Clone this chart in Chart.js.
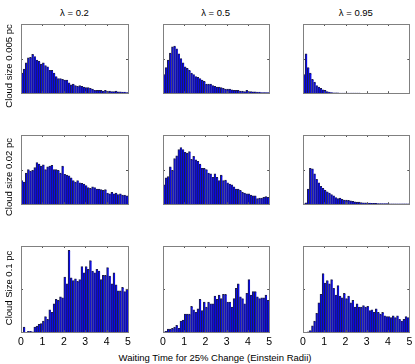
<!DOCTYPE html>
<html>
<head>
<meta charset="utf-8">
<script src="https://cdn.jsdelivr.net/npm/chart.js@4.4.1/dist/chart.umd.min.js"></script>
<style>
  body { margin: 0; background: #fff; }
  #fig { position: relative; width: 415px; height: 364px; font-family: "Liberation Sans", Arial, sans-serif; color: #000; }
  .box { position: absolute; }
  .lbl { position: absolute; font-size: 9.5px; white-space: nowrap; }
  .ylbl { position: absolute; font-size: 9.5px; white-space: nowrap; transform: translate(-50%, -50%) rotate(-90deg); }
</style>
</head>
<body>
<div id="fig"></div>
<script>
// bin width of the histograms and x range
const binWidth = 0.1;
const xTicks = [0, 1, 2, 3, 4, 5];

const colTitles = ["λ = 0.2", "λ = 0.5", "λ = 0.95"];
const rowTitles = ["Cloud size 0.005 pc", "Cloud size 0.02 pc", "Cloud Size 0.1 pc"];
const xTitle = "Waiting Time for 25% Change (Einstein Radii)";

// heights as % of each panel's y range
// row 1 : cloud size 0.005 pc
const h005_l02 = [29, 35, 44, 51, 52, 56, 53, 48, 46, 42, 44, 40, 38, 33, 33, 29, 24, 21, 21, 20,
  19, 19, 15, 12, 13, 11, 10, 11, 10, 9, 8, 8, 7, 6, 4, 4, 4, 4, 3, 4,
  3, 3, 2.5, 2.5, 3, 2, 2, 1.5, 1.5, 1];
const h005_l05 = [27, 37, 48, 58, 67, 68, 64, 57, 50, 44, 38, 36, 33, 29, 27, 24, 23, 21, 19, 17,
  13, 13, 13, 11, 10, 9, 9, 8, 7, 6, 6, 6, 5, 4, 4, 4, 3, 3, 2.5, 4,
  2.5, 2.5, 2, 2, 1.5, 1.5, 1, 1, 0.8, 0.8];
const h005_l095 = [27, 57, 37, 29, 20, 16, 11, 9, 7, 5, 4, 2.5, 1.5, 1, 0.7, 0.5, 0.4, 0.3, 0.3, 0.2,
  0.2, 0.2, 0.1, 0.1, 0.1, 0.1, 0.1, 0, 0, 0, 0, 0, 0, 0, 0, 0, 0, 0, 0, 0,
  0, 0, 0, 0, 0, 0, 0, 0, 0, 0];
// row 2 : cloud size 0.02 pc
const h002_l02 = [34, 32, 45, 50, 48, 49, 53, 60, 58, 55, 57, 50, 54, 55, 56, 50, 50, 49, 45, 55,
  43, 42, 41, 38, 34, 32, 34, 31, 30, 29, 27, 24, 23, 25, 24, 22, 22, 21, 20, 21,
  16, 15, 17, 15, 16, 14, 15, 13, 13, 12];
const h002_l05 = [28, 38, 40, 54, 49, 66, 70, 79, 82, 79, 75, 74, 76, 65, 69, 64, 62, 58, 52, 52,
  50, 45, 44, 39, 44, 39, 34, 42, 34, 35, 31, 29, 28, 25, 22, 22, 20, 17, 16, 15,
  15, 13, 12, 12, 8, 9, 9, 10, 11, 10];
const h002_l095 = [0.5, 2, 22, 52, 51, 44, 36, 31, 26, 23, 20, 18, 16, 14, 12, 9.5, 8, 9, 7, 6,
  6, 5.5, 5, 4, 3.5, 3, 3, 2.5, 2, 2, 1.6, 1.5, 1.4, 1.2, 1.1, 1, 1, 0.9, 0.8, 0.8,
  0.7, 0.7, 0.6, 0.6, 0.6, 0.5, 0.5, 0.5, 0.5, 0.5];
// row 3 : cloud size 0.1 pc
const h01_l02 = [0, 6, 0, 1, 1, 0.5, 6, 7, 9, 10, 13, 18, 15, 26, 23, 33, 38, 37, 41, 40,
  64, 56, 95, 63, 60, 62, 59, 61, 76, 69, 76, 73, 83, 71, 69, 73, 71, 61, 66, 66,
  75, 65, 56, 69, 55, 48, 48, 52, 47, 50];
const h01_l05 = [0.5, 1, 3.5, 3.5, 4.5, 6, 8, 4.5, 13, 14, 21, 21, 21, 30, 26, 23, 27, 38, 25, 35,
  29, 35, 33, 33, 42, 38, 43, 39, 44, 44, 35, 35, 29, 39, 51, 56, 41, 39, 33, 45,
  61, 43, 47, 47, 41, 39, 40, 40, 43, 37];
const h01_l095 = [0, 0, 0.5, 2, 7.5, 13, 22, 34, 44, 68, 57, 60, 56, 61, 51, 43, 54, 42, 40, 45,
  39, 42, 34, 37, 29, 33, 29, 29, 31, 29, 30, 25, 26, 23, 27, 23, 21, 23, 19, 18,
  18, 17, 19, 17, 19, 15, 13, 15, 18, 17];

const panels = [
  [h005_l02, h005_l05, h005_l095],
  [h002_l02, h002_l05, h002_l095],
  [h01_l02, h01_l05, h01_l095],
];

// plot area placement (px)
const colLeft = [21, 162.5, 302.7];
const colWidth = [107, 106.2, 106.3];
const rowTop = [23.5, 134.5, 245.7];
const plotH = 84.2;
const pad = 8;

const fig = document.getElementById("fig");

// box with inward ticks, like the original
const boxPlugin = {
  id: "boxTicks",
  afterDraw(chart) {
    const ctx = chart.ctx;
    const a = chart.chartArea;
    const xs = chart.scales.x;
    const ys = chart.scales.y;
    ctx.save();
    ctx.strokeStyle = "#555";
    ctx.lineWidth = 1;
    xTicks.forEach((t) => {
      const px = Math.round(xs.getPixelForValue(t)) + 0.5;
      ctx.beginPath();
      ctx.moveTo(px, a.bottom); ctx.lineTo(px, a.bottom - 2);
      ctx.moveTo(px, a.top); ctx.lineTo(px, a.top + 2);
      ctx.stroke();
    });
    const py = Math.round(ys.getPixelForValue(50)) + 0.5;
    ctx.beginPath();
    ctx.moveTo(a.left, py); ctx.lineTo(a.left + 2, py);
    ctx.moveTo(a.right, py); ctx.lineTo(a.right - 2, py);
    ctx.stroke();
    ctx.strokeStyle = "#808080";
    ctx.strokeRect(Math.round(a.left) + 0.5, Math.round(a.top) + 0.5,
      Math.round(a.right - a.left), Math.round(a.bottom - a.top));
    ctx.restore();
  }
};

function makePanel(r, c) {
  const vals = panels[r][c];
  const bottomRow = r === 2;
  const w = colWidth[c] + 2 * pad;
  const h = plotH + 2 + (bottomRow ? 18 : 2);
  const div = document.createElement("div");
  div.className = "box";
  div.style.left = (colLeft[c] - pad) + "px";
  div.style.top = (rowTop[r] - 1) + "px";
  div.style.width = w + "px";
  div.style.height = h + "px";
  const cv = document.createElement("canvas");
  div.appendChild(cv);
  fig.appendChild(div);

  const data = vals.map((v, i) => ({ x: (i + 0.5) * binWidth, y: v }));

  new Chart(cv, {
    type: "bar",
    data: {
      datasets: [{
        data: data,
        backgroundColor: "#0a0ae6",
        borderColor: "#1e1e4a",
        borderWidth: { left: 1, top: 1, right: 0, bottom: 0 },
        borderSkipped: false,
        barPercentage: 1,
        categoryPercentage: 1,
      }],
    },
    plugins: [boxPlugin],
    options: {
      responsive: true,
      maintainAspectRatio: false,
      animation: false,
      layout: { padding: { left: pad, right: pad, top: 1, bottom: bottomRow ? 0 : 1 } },
      plugins: { legend: { display: false }, tooltip: { enabled: false } },
      scales: {
        x: {
          type: "linear",
          min: 0,
          max: 5,
          offset: false,
          display: bottomRow,
          afterBuildTicks: (s) => { s.ticks = xTicks.map((v) => ({ value: v })); },
          afterFit: (s) => { s.height = 17; },
          grid: { display: false, drawTicks: false, offset: false },
          border: { display: false },
          ticks: { color: "#000", font: { size: 10.5, family: "Liberation Sans" }, padding: 4, maxRotation: 0 },
        },
        y: { display: false, min: 0, max: 100 },
      },
    },
  });
}

for (let r = 0; r < 3; r++) {
  for (let c = 0; c < 3; c++) {
    makePanel(r, c);
  }
}

// text labels
colTitles.forEach((t, c) => {
  const d = document.createElement("div");
  d.className = "lbl";
  d.textContent = t;
  d.style.left = (colLeft[c] + colWidth[c] / 2) + "px";
  d.style.top = "12px";
  d.style.transform = "translate(-50%, -50%)";
  fig.appendChild(d);
});
rowTitles.forEach((t, r) => {
  const d = document.createElement("div");
  d.className = "ylbl";
  d.textContent = t;
  d.style.left = "8px";
  d.style.top = (rowTop[r] + plotH / 2) + "px";
  fig.appendChild(d);
});
const xl = document.createElement("div");
xl.className = "lbl";
xl.textContent = xTitle;
xl.style.left = "215px";
xl.style.top = "357px";
xl.style.transform = "translate(-50%, -50%)";
fig.appendChild(xl);
</script>
</body>
</html>
